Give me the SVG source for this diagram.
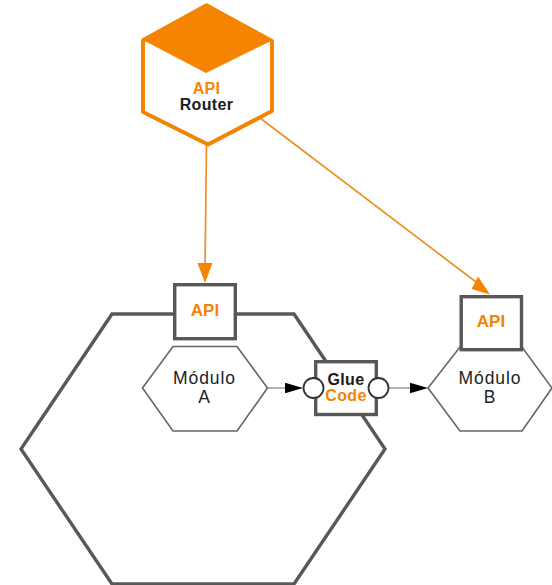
<svg xmlns="http://www.w3.org/2000/svg" width="552" height="585" viewBox="0 0 552 585">
<style>
text{font-family:"Liberation Sans",Arial,sans-serif;text-anchor:middle}
.b{font-weight:700}
.o{fill:#f58400}
.k{fill:#1b1b1b}
.s{font-size:17px}
.t{font-size:16px;letter-spacing:.35px}
.m{fill:#fff;stroke:#666;stroke-width:1.6}
.box{fill:#fff;stroke:#585858;stroke-width:3.4}
.lbl{font-size:17.500px;letter-spacing:.9px;fill:#222}
.port{fill:#fff;stroke:#333;stroke-width:1.8}
.thin{fill:none;stroke:#666;stroke-width:1}
.or{fill:none;stroke:#ee8f28;stroke-width:1.7}
</style>
<g id="boundary"><path d="M112 314H294L385 449L294 584H112L21 449Z" fill="none" stroke="#585858" stroke-width="3.4"/></g>
<g id="connectors">
<path class="or" d="M206.500 145L205 270"/>
<path d="M197.500 263L212.500 263L205 283Z" fill="#f58400"/>
<path class="or" d="M260 118L480 285"/>
<path d="M478 276.500L471.500 289L490 294.500Z" fill="#f58400"/>
<path class="thin" d="M268 388H290"/>
<path d="M285 382.700L303 388L285 393.300Z" fill="#000"/>
<path class="thin" d="M388 388H415"/>
<path d="M410 382.700L428 388L410 393.300Z" fill="#000"/>
</g>
<g id="api-router">
<path d="M207 6L272 41V111L208 144.500L143 112V41Z" fill="#fff" stroke="#f58400" stroke-width="4" stroke-linejoin="round"/>
<path d="M206.500 3L273 40L206 73L141 39Z" fill="#f58400"/>
<text class="b o t" x="206.500" y="94">API</text>
<text class="b k t" x="206.500" y="110">Router</text>
</g>
<g id="modulo-a">
<path class="m" d="M142.500 388L173 346.500H237L267.500 388L237 431H173Z"/>
<text class="lbl" x="204.500" y="384">Módulo</text>
<text class="lbl" x="204.500" y="402.500">A</text>
</g>
<g id="api-a">
<rect class="box" x="174.700" y="284.700" width="60.600" height="54"/>
<text class="b o s" x="205" y="316">API</text>
</g>
<g id="modulo-b">
<path class="m" d="M428 388L460 347H522L552 388L522 431H460Z"/>
<text class="lbl" x="490" y="384">Módulo</text>
<text class="lbl" x="490" y="402.500">B</text>
</g>
<g id="api-b">
<rect class="box" x="461.200" y="296.700" width="60.300" height="53"/>
<text class="b o s" x="491" y="327">API</text>
</g>
<g id="glue-code">
<rect class="box" x="315.700" y="361.700" width="60.600" height="52.800"/>
<text class="b k t" x="346" y="385">Glue</text>
<text class="b o t" x="346" y="401">Code</text>
<circle class="port" cx="313.500" cy="388" r="10"/>
<circle class="port" cx="378.500" cy="388" r="10"/>
</g>
</svg>
